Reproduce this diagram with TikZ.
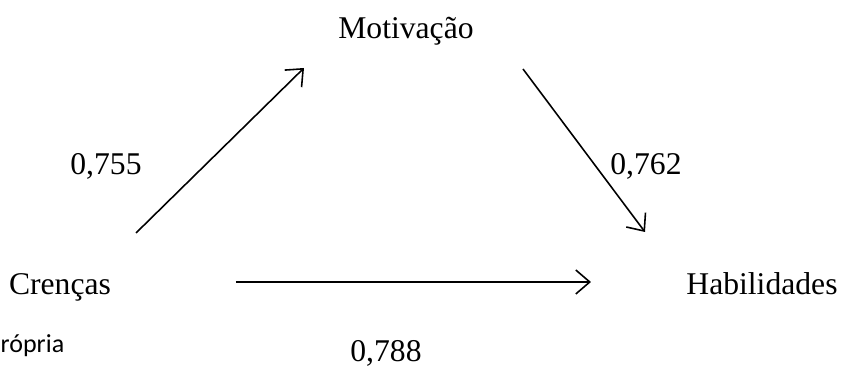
\documentclass[tikz,border=0pt]{standalone}
\usepackage{fontspec}
\setmainfont{Liberation Serif}
\newfontfamily\notefont{Carlito}
\usetikzlibrary{arrows.meta}

\begin{document}
\begin{tikzpicture}[
  x=0.1mm, y=-0.1mm,
  var/.style={inner sep=0pt, anchor=base, font=\fontsize{9}{11}\selectfont, text=black},
  coef/.style={var},
  note/.style={inner sep=0pt, anchor=base west, font=\notefont\fontsize{7.4}{9}\selectfont},
  arrow/.style={-{Straight Barb[length=1.4mm,width=2.4mm]}, line width=0.45pt, draw=black}
]
\useasboundingbox (0,0) rectangle (841,367);
\node[var] (mot) at (406,39) {Motivação};
\node[var] (cre) at (60,295) {Crenças};
\node[var] (hab) at (762,295) {Habilidades};
\node[coef] (k1) at (106,175) {0,755};
\node[coef] (k2) at (646,175) {0,762};
\node[coef] (k3) at (386,362) {0,788};
\node[note] (src) at (0,353) {rópria};
\coordinate (creout) at (136,233);
\coordinate (motin) at (304,68);
\coordinate (motout) at (523,69);
\coordinate (habin) at (645,232);
\coordinate (creright) at (236,282);
\coordinate (hableft) at (591,282);
\draw[arrow] (creout) -- (motin);
\draw[arrow] (motout) -- (habin);
\draw[arrow] (creright) -- (hableft);
\end{tikzpicture}
\end{document}
